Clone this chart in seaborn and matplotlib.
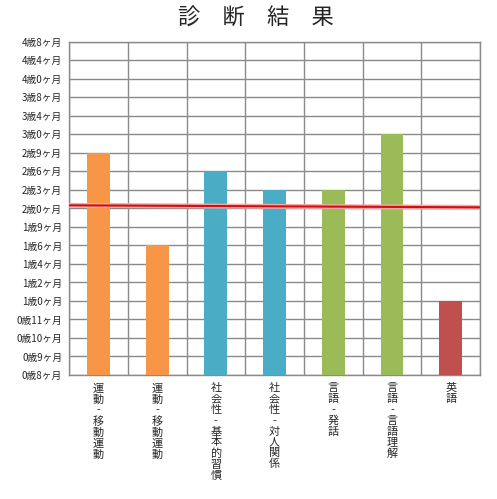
import pandas as pd
import seaborn as sns
import matplotlib.pyplot as plt

# age levels used as the (evenly spaced) y axis, bottom to top
age_levels = ["0歳8ヶ月", "0歳9ヶ月", "0歳10ヶ月", "0歳11ヶ月", "1歳0ヶ月",
              "1歳2ヶ月", "1歳4ヶ月", "1歳6ヶ月", "1歳9ヶ月", "2歳0ヶ月",
              "2歳3ヶ月", "2歳6ヶ月", "2歳9ヶ月", "3歳0ヶ月", "3歳4ヶ月",
              "3歳8ヶ月", "4歳0ヶ月", "4歳4ヶ月", "4歳8ヶ月"]

categories = ["運動-移動運動", "運動-移動運動", "社会性-基本的習慣", "社会性-対人関係",
              "言語-発話", "言語-言語理解", "英語"]
results = ["2歳9ヶ月", "1歳6ヶ月", "2歳6ヶ月", "2歳3ヶ月", "2歳3ヶ月", "3歳0ヶ月", "1歳0ヶ月"]
bar_colors = ["#F79646", "#F79646", "#4BACC6", "#4BACC6", "#9BBB59", "#9BBB59", "#C0504D"]

# reference line (actual age), in level units at left / right edge
ref_line = [9.17, 9.06]

sns.set_style("white")
plt.rcParams['font.family'] = ['Noto Sans CJK JP', 'DejaVu Sans']

df = pd.DataFrame({
    "pos": list(range(len(categories))),
    "level": [age_levels.index(r) for r in results],
})

fig = plt.figure(figsize=(4.97, 4.99), dpi=100)
ax = fig.add_axes([0.139, 0.2485, 0.827, 0.6675])

sns.barplot(x="pos", y="level", data=df, hue="pos", palette=bar_colors,
            legend=False, width=0.39, ax=ax, saturation=1, linewidth=0)
for p in ax.patches:
    p.set_zorder(3)
    p.set_edgecolor("none")

# gridlines at every level and at category boundaries
for k in range(len(age_levels)):
    ax.axhline(k, color="#8a8a8a", lw=1, zorder=1)
for b in range(len(categories) + 1):
    ax.axvline(b - 0.5, color="#8a8a8a", lw=1, zorder=1)

ax.plot([-0.5, len(categories) - 0.5], ref_line, color="#f4a8a8", lw=3.5, zorder=4,
        solid_capstyle="butt")
ax.plot([-0.5, len(categories) - 0.5], ref_line, color="#d01010", lw=1.5, zorder=5,
        solid_capstyle="butt")

ax.set_xlim(-0.5, len(categories) - 0.5)
ax.set_ylim(0, len(age_levels) - 1)
ax.set_yticks(range(len(age_levels)))
ax.set_yticklabels(age_levels, fontsize=7)

ax.set_xticks([b - 0.5 for b in range(len(categories) + 1)])
ax.set_xticklabels([])
for i, c in enumerate(categories):
    ax.text(i, -0.45, "\n".join(c), ha="center", va="top", fontsize=8,
            linespacing=1.1, transform=ax.transData)

ax.tick_params(axis="both", length=3, color="#8a8a8a", width=1, pad=3)
ax.tick_params(axis="y", pad=2)
ax.set_xlabel("")
ax.set_ylabel("")
for s in ax.spines.values():
    s.set_color("#8a8a8a")
    s.set_linewidth(1)
    s.set_zorder(2)

fig.text(0.515, 0.963, "診　断　結　果", ha="center", va="center", fontsize=16)

plt.savefig("out.png", dpi=100)
plt.close()
